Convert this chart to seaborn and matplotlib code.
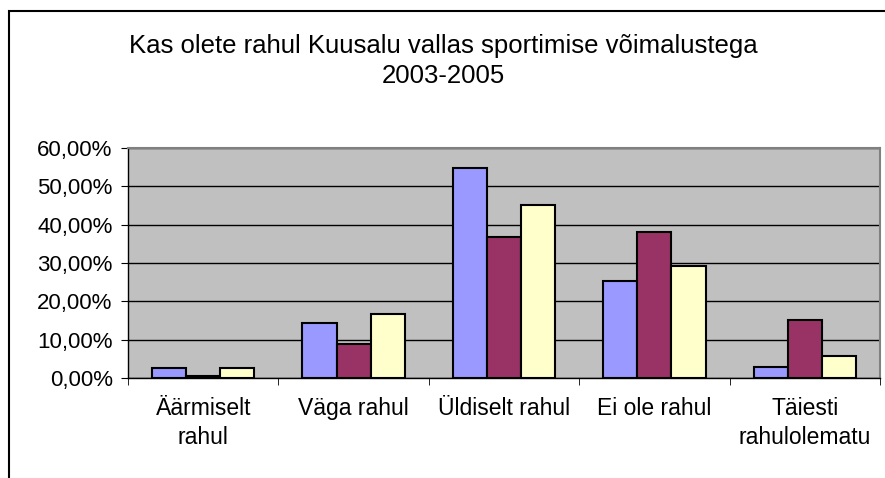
import numpy as np
import pandas as pd
import seaborn as sns
import matplotlib.pyplot as plt
from matplotlib.patches import Rectangle
from matplotlib.ticker import FuncFormatter, MultipleLocator

categories = ['Äärmiselt\nrahul', 'Väga rahul', 'Üldiselt rahul', 'Ei ole rahul', 'Täiesti\nrahulolematu']
years = ['2003', '2004', '2005']
v2003 = [2.5, 14.3, 54.8, 25.4, 2.9]
v2004 = [0.6, 8.8, 36.7, 38.2, 15.1]
v2005 = [2.5, 16.7, 45.1, 29.3, 5.7]
colors = ['#9999FF', '#993366', '#FFFFCC']

data = pd.DataFrame({
    'Kategooria': categories * 3,
    'Aasta': np.repeat(years, len(categories)),
    'Osakaal': v2003 + v2004 + v2005,
})

sns.set_style('white')
plt.rcParams['font.family'] = ['Liberation Sans', 'DejaVu Sans']
plt.rcParams['text.color'] = 'black'
plt.rcParams['xtick.color'] = 'black'
plt.rcParams['ytick.color'] = 'black'

fig = plt.figure(figsize=(8.85, 4.78), dpi=100)
fig.patches.append(Rectangle((9 / 885, -0.1), 2, 1.1 - 11 / 478, transform=fig.transFigure,
                             fill=False, edgecolor='black', linewidth=1.5))

ax = fig.add_axes([128 / 885, 100 / 478, 752 / 885, 230 / 478])
ax.set_facecolor('#C0C0C0')

sns.barplot(data=data, x='Kategooria', y='Osakaal', hue='Aasta', palette=colors, saturation=1,
            width=0.68, gap=0, edgecolor='black', linewidth=1.5, ax=ax, zorder=3)
ax.get_legend().remove()

ax.set_ylim(0, 60)
ax.set_xlim(-0.5, 4.5)
ax.yaxis.set_major_locator(MultipleLocator(10))
ax.yaxis.set_major_formatter(FuncFormatter(lambda v, p: f'{v:.2f}%'.replace('.', ',')))
ax.grid(axis='y', color='black', linewidth=1, zorder=0)
ax.set_axisbelow(True)

ax.set_xlabel('')
ax.set_ylabel('')
ax.tick_params(axis='x', length=0, pad=14, labelsize=16.5)
for t in ax.get_xticklabels():
    t.set_linespacing(1.3)
ax.set_xticks(np.arange(-0.5, 5, 1), minor=True)
ax.tick_params(axis='x', which='minor', length=5, direction='out', bottom=True)
ax.tick_params(axis='y', length=5, direction='out', left=True, labelsize=16, pad=6)

for s in ['left', 'bottom']:
    ax.spines[s].set_color('black')
    ax.spines[s].set_linewidth(1)
for s in ['top', 'right']:
    ax.spines[s].set_color('#808080')
    ax.spines[s].set_linewidth(1.5)

fig.text(443 / 885, 1 - 61 / 478, 'Kas olete rahul Kuusalu vallas sportimise võimalustega\n2003-2005',
         ha='center', va='center', fontsize=18.5, linespacing=1.3)

fig.savefig('out.png', dpi=100)
